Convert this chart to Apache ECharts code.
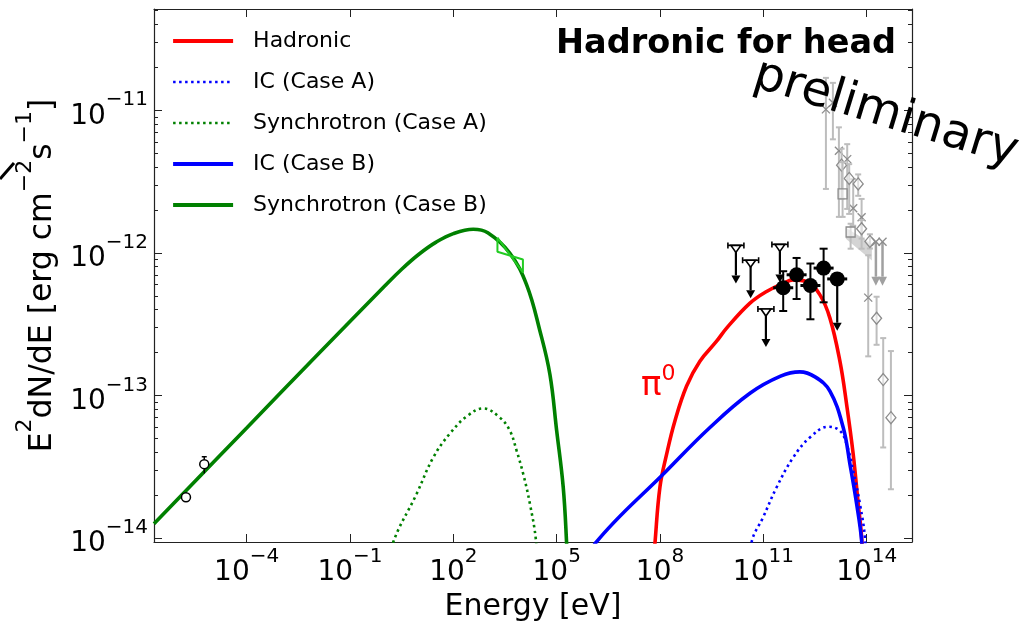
<!DOCTYPE html>
<html><head><meta charset="utf-8">
<script src="https://cdn.jsdelivr.net/npm/echarts@6/dist/echarts.min.js"></script>
<style>html,body{margin:0;padding:0;background:#fff}#c{width:1022px;height:627px}</style>
</head><body><div id="c"></div>
<script>
// All values are log10: x = log10(E / eV), y = log10(E^2 dN/dE / erg cm^-2 s^-1)
const xTickExp = [-4, -1, 2, 5, 8, 11, 14];
const yTickExp = [-14, -13, -12, -11];
const legendNames = ['Hadronic', 'IC (Case A)', 'Synchrotron (Case A)', 'IC (Case B)', 'Synchrotron (Case B)'];

const hadronic = [[7.80,-14.2],[7.852,-14.04],[7.997,-13.644],[8.192,-13.412],[8.432,-13.179],[8.772,-12.934],[9.158,-12.76],[9.643,-12.62],[9.933,-12.528],[10.611,-12.353],[11.094,-12.271],[11.576,-12.214],[11.867,-12.19],[12.255,-12.202],[12.642,-12.295],[12.932,-12.458],[13.222,-12.76],[13.417,-13.063],[13.608,-13.412],[13.753,-13.76],[13.852,-13.993],[13.88,-14.2]];
const icCaseA = [[10.60,-14.2],[10.659,-14.028],[10.996,-13.853],[11.385,-13.644],[11.867,-13.435],[12.351,-13.295],[12.883,-13.22],[13.222,-13.248],[13.417,-13.342],[13.608,-13.528],[13.803,-13.761],[13.948,-13.993],[13.98,-14.2]];
const syncCaseA = [[0.15,-14.2],[0.238,-14.04],[0.935,-13.69],[1.417,-13.435],[1.901,-13.267],[2.4,-13.145],[2.868,-13.091],[3.353,-13.156],[3.643,-13.248],[3.837,-13.388],[4.029,-13.551],[4.224,-13.761],[4.398,-14.016],[4.43,-14.2]];
const icCaseB = [[6.05,-14.1],[6.111,-14.04],[8.192,-13.528],[9.449,-13.225],[10.611,-12.985],[11.5,-12.865],[12.06,-12.835],[12.5,-12.87],[12.932,-12.97],[13.318,-13.225],[13.512,-13.48],[13.707,-13.76],[13.852,-14.016],[13.88,-14.2]];
const syncCaseB = [[-6.69,-13.90],[-4,-13.228],[-2,-12.728],[0,-12.235],[0.5,-12.115],[1,-12.01],[1.5,-11.925],[2,-11.865],[2.578,-11.835],[3.0,-11.86],[3.643,-12.004],[4.128,-12.225],[4.514,-12.548],[4.804,-12.853],[4.999,-13.246],[5.19,-13.644],[5.289,-14.04],[5.31,-14.2]];
const bowtie = [[3.28,-11.894],[4.02,-12.138],[4.02,-12.047],[3.28,-11.992],[3.28,-11.894]];

// [logE, logF, logF_low, logF_high]
const radioPts = [[-5.762,-13.714,-13.714,-13.714],[-5.231,-13.482,-13.547,-13.43]];
const fermiPts = [[11.576,-12.245,-12.408,-12.129],[11.965,-12.154,-12.324,-12.036],[12.366,-12.229,-12.466,-12.075],[12.749,-12.107,-12.347,-11.971]];
const fermiArrowPt = [[13.144,-12.183,-12.546]];
const fermiUL = [[10.203,-11.983],[10.63,-12.087],[11.074,-12.429],[11.48,-11.976]];
const grayCross = [[12.816,-10.994,-11.552,-10.773],[13.019,-10.948,-11.204,-10.808],[13.193,-11.284,-11.748,-11.12],[13.434,-11.343,-11.692,-11.238],[13.608,-11.687,-11.81,-11.483],[13.852,-11.75,-11.971,-11.622],[14.044,-12.314,-12.726,-12.017]];
const grayDiamond = [[13.271,-11.385,-11.62,-11.27],[13.492,-11.478,-11.727,-11.378],[13.753,-11.517,-11.6,-11.45],[13.852,-11.831,-11.9,-11.77],[14.093,-11.92,-11.97,-11.87],[14.287,-12.459,-12.645,-12.308],[14.479,-12.889,-13.365,-12.598],[14.703,-13.156,-13.658,-12.689]];
const graySquare = [[13.30,-11.587,-11.748,-11.364],[13.533,-11.854,-11.971,-11.796]];
const grayUL = [[14.267,-11.922],[14.459,-11.922]];
const grayBand = [[13.396,-11.824],[14.151,-11.936],[14.151,-12.054],[13.396,-11.901]];

const FONT = 'DejaVu Sans';
const RED = '#ff0000', BLUE = '#0000ff', GREEN = '#008000';
const SOLID_W = 3.6, DOT_W = 2.6;
const yMinor = [];
for (let n = -15; n <= -11; n++) for (let k = 2; k <= 9; k++) { const v = n + Math.log10(k); if (v > -14.028 && v < -10.29) yMinor.push(v); }

const supTxt = v => (v < 0 ? '\u2212' : '') + Math.abs(v);
const tickFmt = v => '{b|10}{s|' + supTxt(v) + '}';
const tickRich = {
  b: {fontSize: 28, fontFamily: FONT, color: '#000', lineHeight: 40, verticalAlign: 'bottom'},
  s: {fontSize: 20, fontFamily: FONT, color: '#000', lineHeight: 20, verticalAlign: 'top'}
};
const AX = '#222';

function grayMarker(kind) {
  return function (params, api) {
    const c = api.coord([api.value(0), api.value(1)]);
    const lo = api.coord([api.value(0), api.value(2)]);
    const hi = api.coord([api.value(0), api.value(3)]);
    const kids = [];
    const eb = {stroke: '#bdbdbd', lineWidth: 2};
    if (lo[1] - hi[1] > 1) {
      kids.push({type: 'line', shape: {x1: c[0], y1: hi[1], x2: c[0], y2: lo[1]}, style: eb});
      kids.push({type: 'line', shape: {x1: c[0] - 3, y1: hi[1], x2: c[0] + 3, y2: hi[1]}, style: eb});
      kids.push({type: 'line', shape: {x1: c[0] - 3, y1: lo[1], x2: c[0] + 3, y2: lo[1]}, style: eb});
    }
    const ms = {stroke: '#8c8c8c', lineWidth: 1.3, fill: 'rgba(255,255,255,0.5)'};
    if (kind === 'x') {
      kids.push({type: 'line', shape: {x1: c[0] - 4, y1: c[1] - 4, x2: c[0] + 4, y2: c[1] + 4}, style: ms});
      kids.push({type: 'line', shape: {x1: c[0] - 4, y1: c[1] + 4, x2: c[0] + 4, y2: c[1] - 4}, style: ms});
    } else if (kind === 'd') {
      kids.push({type: 'polygon', shape: {points: [[c[0], c[1] - 6], [c[0] + 5, c[1]], [c[0], c[1] + 6], [c[0] - 5, c[1]]]}, style: ms});
    } else {
      kids.push({type: 'rect', shape: {x: c[0] - 4.5, y: c[1] - 5, width: 9, height: 10}, style: ms});
    }
    return {type: 'group', children: kids};
  };
}

function arrowShapes(x, y1, y2, color, lw, hw, hh) {
  return [
    {type: 'line', shape: {x1: x, y1: y1, x2: x, y2: y2 - hh}, style: {stroke: color, lineWidth: lw}},
    {type: 'polygon', shape: {points: [[x - hw, y2 - hh], [x + hw, y2 - hh], [x, y2]]}, style: {fill: color}}
  ];
}

function curve(name, data, color, dotted) {
  return {type: 'line', name: name, z: 3, data: data, showSymbol: false, symbol: 'none', smooth: 0.4,
    lineStyle: dotted ? {color: color, width: DOT_W, type: [2.5, 3.5]} : {color: color, width: SOLID_W},
    itemStyle: {color: color}};
}

const series = [
  {type: 'custom', name: 'band', z: 1, data: [[grayBand[0][0], grayBand[0][1]]], encode: {x: 0, y: 1},
    renderItem: (p, api) => ({type: 'polygon', shape: {points: grayBand.map(v => api.coord(v))}, style: {fill: '#d4d4d4'}})},
  {type: 'custom', name: 'gx', z: 2, data: grayCross, encode: {x: 0, y: 1}, renderItem: grayMarker('x')},
  {type: 'custom', name: 'gd', z: 2, data: grayDiamond, encode: {x: 0, y: 1}, renderItem: grayMarker('d')},
  {type: 'custom', name: 'gs', z: 2, data: graySquare, encode: {x: 0, y: 1}, renderItem: grayMarker('s')},
  {type: 'custom', name: 'gul', z: 2, data: grayUL, encode: {x: 0, y: 1},
    renderItem: (p, api) => {
      const c = api.coord([api.value(0), api.value(1)]);
      const kids = arrowShapes(c[0], c[1], c[1] + 44, '#a0a0a0', 2.5, 4.5, 9);
      kids.push({type: 'line', shape: {x1: c[0] - 4, y1: c[1] - 4, x2: c[0] + 4, y2: c[1] + 4}, style: {stroke: '#8c8c8c', lineWidth: 1.3}});
      kids.push({type: 'line', shape: {x1: c[0] - 4, y1: c[1] + 4, x2: c[0] + 4, y2: c[1] - 4}, style: {stroke: '#8c8c8c', lineWidth: 1.3}});
      return {type: 'group', children: kids};
    }},
  curve('Hadronic', hadronic, RED, false),
  curve('IC (Case A)', icCaseA, BLUE, true),
  curve('Synchrotron (Case A)', syncCaseA, GREEN, true),
  curve('IC (Case B)', icCaseB, BLUE, false),
  curve('Synchrotron (Case B)', syncCaseB, GREEN, false),
  {type: 'line', name: 'bowtie', z: 4, data: bowtie, showSymbol: false, symbol: 'none',
    lineStyle: {color: '#22cc22', width: 2}},
  {type: 'custom', name: 'ful', z: 5, data: fermiUL, encode: {x: 0, y: 1},
    renderItem: (p, api) => {
      const c = api.coord([api.value(0), api.value(1)]);
      const x = c[0], y = c[1];
      const st = {stroke: '#000', lineWidth: 1.6, fill: '#fff'};
      const kids = arrowShapes(x, y, y + 33, '#000', 2.2, 4.5, 8);
      kids.push({type: 'line', shape: {x1: x - 8, y1: y - 5, x2: x + 8, y2: y - 5}, style: st});
      kids.push({type: 'line', shape: {x1: x - 8, y1: y - 8, x2: x - 8, y2: y - 2}, style: st});
      kids.push({type: 'line', shape: {x1: x + 8, y1: y - 8, x2: x + 8, y2: y - 2}, style: st});
      kids.push({type: 'polygon', shape: {points: [[x - 5, y - 5], [x + 5, y - 5], [x, y + 2]]}, style: st});
      return {type: 'group', children: kids};
    }},
  {type: 'custom', name: 'fpts', z: 5, data: fermiPts, encode: {x: 0, y: 1},
    renderItem: (p, api) => {
      const c = api.coord([api.value(0), api.value(1)]);
      const lo = api.coord([api.value(0), api.value(2)]);
      const hi = api.coord([api.value(0), api.value(3)]);
      const st = {stroke: '#000', lineWidth: 2};
      return {type: 'group', children: [
        {type: 'line', shape: {x1: c[0], y1: hi[1], x2: c[0], y2: lo[1]}, style: st},
        {type: 'line', shape: {x1: c[0] - 4, y1: hi[1], x2: c[0] + 4, y2: hi[1]}, style: st},
        {type: 'line', shape: {x1: c[0] - 4, y1: lo[1], x2: c[0] + 4, y2: lo[1]}, style: st},
        {type: 'line', shape: {x1: c[0] - 10, y1: c[1], x2: c[0] + 10, y2: c[1]}, style: {stroke: '#000', lineWidth: 3}},
        {type: 'circle', shape: {cx: c[0], cy: c[1], r: 7.5}, style: {fill: '#000'}}
      ]};
    }},
  {type: 'custom', name: 'farrow', z: 5, data: fermiArrowPt, encode: {x: 0, y: 1},
    renderItem: (p, api) => {
      const c = api.coord([api.value(0), api.value(1)]);
      const lo = api.coord([api.value(0), api.value(2)]);
      const kids = arrowShapes(c[0], c[1], lo[1], '#000', 2.2, 4.5, 8);
      kids.push({type: 'line', shape: {x1: c[0] - 10, y1: c[1], x2: c[0] + 10, y2: c[1]}, style: {stroke: '#000', lineWidth: 3}});
      kids.push({type: 'circle', shape: {cx: c[0], cy: c[1], r: 7.5}, style: {fill: '#000'}});
      return {type: 'group', children: kids};
    }},
  {type: 'custom', name: 'radio', z: 5, data: radioPts, encode: {x: 0, y: 1},
    renderItem: (p, api) => {
      const c = api.coord([api.value(0), api.value(1)]);
      const lo = api.coord([api.value(0), api.value(2)]);
      const hi = api.coord([api.value(0), api.value(3)]);
      const st = {stroke: '#000', lineWidth: 1.5};
      const kids = [];
      if (lo[1] - hi[1] > 1) {
        kids.push({type: 'line', shape: {x1: c[0], y1: hi[1], x2: c[0], y2: lo[1]}, style: st});
        kids.push({type: 'line', shape: {x1: c[0] - 2.5, y1: hi[1], x2: c[0] + 2.5, y2: hi[1]}, style: st});
      }
      kids.push({type: 'circle', shape: {cx: c[0], cy: c[1], r: 4.5}, style: {fill: '#fff', stroke: '#000', lineWidth: 1.5}});
      return {type: 'group', children: kids};
    }}
];

const legendDotted = {'IC (Case A)': true, 'Synchrotron (Case A)': true};
const baseAxis = {type: 'value', splitLine: {show: false}, axisLine: {show: true, onZero: false, lineStyle: {color: AX, width: 1.2}}};
const hiddenLine = {show: false, onZero: false};
const option = {
  animation: false,
  backgroundColor: '#fff',
  grid: {left: 154, top: 9, width: 758, height: 536, containLabel: false},
  legend: {
    data: legendNames.map(n => ({name: n, lineStyle: legendDotted[n] ? {width: DOT_W, type: [2.5, 3.5]} : {width: 4.2}})),
    orient: 'vertical', left: 171, top: 30, itemWidth: 60, itemHeight: 14, itemGap: 19, padding: 0,
    selectedMode: false,
    itemStyle: {opacity: 0, borderWidth: 0},
    textStyle: {fontSize: 22, fontFamily: FONT, color: '#000', lineHeight: 22, padding: [0, 0, 0, 15]}
  },
  xAxis: [
    Object.assign({}, baseAxis, {position: 'bottom', min: -6.69, max: 15.315,
      name: 'Energy [eV]', nameLocation: 'middle', nameGap: 50,
      nameTextStyle: {fontSize: 30, fontFamily: FONT, color: '#000'},
      axisTick: {show: true, inside: true, length: 8, customValues: xTickExp, lineStyle: {color: AX}},
      axisLabel: {show: true, margin: 5, customValues: xTickExp, formatter: tickFmt, rich: tickRich}}),
    Object.assign({}, baseAxis, {position: 'top', min: -6.69, max: 15.315,
      axisTick: {show: true, inside: true, length: 8, customValues: xTickExp, lineStyle: {color: AX}},
      axisLabel: {show: false}})
  ],
  yAxis: [
    Object.assign({}, baseAxis, {position: 'left', min: -14.028, max: -10.29,
      name: '{t|E}{s|2}{t|dN/dE [erg cm}{s|\u22122}{t|s}{s|\u22121}{t|]}', nameLocation: 'middle', nameGap: 89, nameRotate: 90,
      nameTextStyle: {rich: {
        t: {fontSize: 31.5, fontFamily: FONT, color: '#000', lineHeight: 45, verticalAlign: 'bottom'},
        s: {fontSize: 22, fontFamily: FONT, color: '#000', lineHeight: 22, verticalAlign: 'top'}}},
      axisTick: {show: true, inside: true, length: 8, customValues: yTickExp, lineStyle: {color: AX}},
      axisLabel: {show: true, margin: 6, customValues: yTickExp, formatter: tickFmt, rich: tickRich}}),
    Object.assign({}, baseAxis, {position: 'right', min: -14.028, max: -10.29,
      axisTick: {show: true, inside: true, length: 8, customValues: yTickExp, lineStyle: {color: AX}},
      axisLabel: {show: false}}),
    Object.assign({}, baseAxis, {position: 'left', min: -14.028, max: -10.29, axisLine: hiddenLine,
      axisTick: {show: true, inside: true, length: 4, customValues: yMinor, lineStyle: {color: AX}},
      axisLabel: {show: false}}),
    Object.assign({}, baseAxis, {position: 'right', min: -14.028, max: -10.29, axisLine: hiddenLine,
      axisTick: {show: true, inside: true, length: 4, customValues: yMinor, lineStyle: {color: AX}},
      axisLabel: {show: false}})
  ],
  graphic: [
    {type: 'text', x: 896, y: 44, z: 10, style: {text: 'Hadronic for head', font: 'bold 33.5px "DejaVu Sans"', fill: '#000', align: 'right', verticalAlign: 'middle'}},
    {type: 'text', x: 641, y: 383, z: 10, style: {
      text: '{p|\u03c0}{s|0}', fill: RED, align: 'left', verticalAlign: 'middle',
      rich: {p: {fontSize: 34, fontFamily: FONT, fill: RED, lineHeight: 40, verticalAlign: 'bottom'},
             s: {fontSize: 22, fontFamily: FONT, fill: RED, lineHeight: 22, verticalAlign: 'top'}}}},
    {type: 'text', x: 755, y: 74, rotation: -17 * Math.PI / 180, z: 10, style: {text: 'preliminary', font: '48px "DejaVu Sans"', fill: '#000', align: 'left', verticalAlign: 'middle'}},
    {type: 'line', z: 10, shape: {x1: 0, y1: 179, x2: 14, y2: 163}, style: {stroke: '#000', lineWidth: 3}}
  ],
  series: series
};
const chart = echarts.init(document.getElementById('c'));
chart.setOption(option);
</script>
</body></html>
